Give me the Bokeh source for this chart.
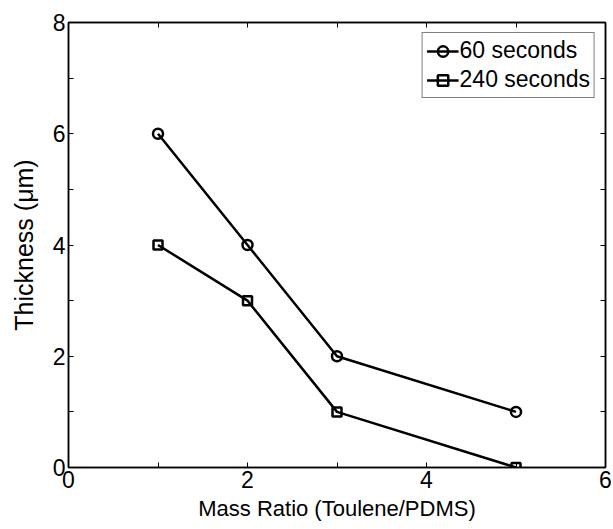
from bokeh.plotting import figure
from bokeh.models import Range1d, LinearAxis, FixedTicker, Legend, LegendItem, CustomJSTickFormatter
from bokeh.embed import file_html
from bokeh.resources import INLINE

mass_ratio = [1, 2, 3, 5]
thick_60 = [6, 4, 2, 1]
thick_240 = [4, 3, 1, 0]
x_major = [0, 2, 4, 6]
x_minor = [1, 3, 5]
y_major = [0, 2, 4, 6, 8]
y_minor = [1, 3, 5, 7]

FONT = "Liberation Sans"

p = figure(width=613, height=529, output_backend="svg", toolbar_location=None,
           x_range=Range1d(0, 6), y_range=Range1d(0, 8),
           min_border_left=68, min_border_right=8, min_border_top=22, min_border_bottom=62,
           x_axis_label="Mass Ratio (Toulene/PDMS)", y_axis_label="Thickness (\u03bcm)")
p.grid.visible = False
p.outline_line_color = "black"
p.outline_line_width = 1.5

def style_axis(ax, ticks, minor, labels=True):
    ax.ticker = FixedTicker(ticks=ticks, minor_ticks=minor)
    ax.major_tick_in = 5
    ax.major_tick_out = 0
    ax.minor_tick_in = 5
    ax.minor_tick_out = 0
    ax.axis_line_color = "black"
    ax.axis_line_width = 1.5
    ax.major_tick_line_width = 1
    ax.minor_tick_line_width = 1
    ax.major_label_text_font = FONT
    ax.major_label_text_font_size = "23px"
    ax.major_label_text_color = "black"
    ax.axis_label_text_font = FONT
    ax.axis_label_text_font_size = "22px"
    ax.axis_label_text_font_style = "normal"
    ax.axis_label_text_color = "black"
    if not labels:
        ax.formatter = CustomJSTickFormatter(code="return ''")

style_axis(p.xaxis[0], x_major, x_minor)
style_axis(p.yaxis[0], y_major, y_minor)
p.xaxis[0].major_label_standoff = 3
p.xaxis[0].axis_label_standoff = 5
p.yaxis[0].major_label_standoff = 3
p.yaxis[0].axis_label_standoff = 12
p.yaxis[0].axis_label_text_font_size = "25px"

top = LinearAxis()
style_axis(top, x_major, x_minor, labels=False)
p.add_layout(top, "above")
right = LinearAxis()
style_axis(right, y_major, y_minor, labels=False)
p.add_layout(right, "right")

l1 = p.line(mass_ratio, thick_60, line_color="black", line_width=2.5)
m1 = p.scatter(mass_ratio, thick_60, marker="circle", size=10, line_color="black",
               line_width=2.5, fill_color=None)
l2 = p.line(mass_ratio, thick_240, line_color="black", line_width=2.5)
m2 = p.scatter(mass_ratio, thick_240, marker="square", size=9, line_color="black",
               line_width=2.5, fill_color=None)

legend = Legend(items=[LegendItem(label="60 seconds", renderers=[l1, m1]),
                       LegendItem(label="240 seconds", renderers=[l2, m2])],
                location="top_right")
legend.label_text_font = FONT
legend.label_text_font_size = "23px"
legend.label_text_color = "black"
legend.border_line_color = "black"
legend.border_line_width = 1.5
legend.glyph_width = 32
legend.glyph_height = 26
legend.label_height = 26
legend.label_standoff = 1
legend.spacing = 2
legend.padding = 4
legend.margin = 10
p.add_layout(legend)

open("out.html", "w").write(file_html(p, INLINE))
